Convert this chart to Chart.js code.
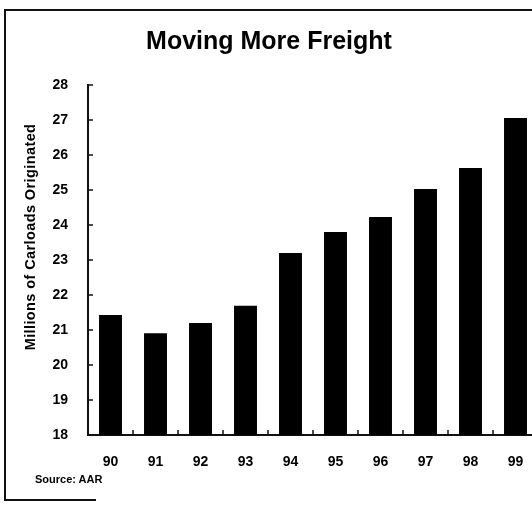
<!DOCTYPE html>
<html>
<head>
<meta charset="utf-8">
<script src="https://cdn.jsdelivr.net/npm/chart.js@4/dist/chart.umd.min.js"></script>
<style>
  html, body { margin: 0; padding: 0; background: #fff; overflow: hidden; width: 532px; height: 505px; }
  #wrap { position: absolute; left: 0; top: 0; width: 545px; height: 505px; }
  #frame { position: absolute; left: 4px; top: 9px; width: 540px; height: 490px;
           border-top: 2px solid #111; border-left: 2px solid #111; pointer-events: none; }
  #bottomline { position: absolute; left: 6px; top: 499px; width: 90px; height: 0; border-top: 2px solid #111; }
  #source { position: absolute; left: 35px; top: 473px; font: bold 11px "Liberation Sans", Arial, sans-serif; color: #000; }
  #ytitle { position: absolute; left: 30px; top: 237px; white-space: nowrap;
            font: bold 14.5px "Liberation Sans", Arial, sans-serif; letter-spacing: 0.4px; color: #000;
            transform: translate(-50%, -50%) rotate(-90deg); }
</style>
</head>
<body>
<div id="wrap"><canvas id="c" width="545" height="505"></canvas></div>
<div id="frame"></div>
<div id="bottomline"></div>
<div id="ytitle"></div>
<div id="source">Source: AAR</div>
<script>
const categories = ["90", "91", "92", "93", "94", "95", "96", "97", "98", "99"];
const carloads = [21.43, 20.91, 21.2, 21.69, 23.2, 23.8, 24.23, 25.03, 25.63, 27.06];
const yTicks = [18, 19, 20, 21, 22, 23, 24, 25, 26, 27, 28];
const titleText = "Moving More Freight";
const yTitle = "Millions of Carloads Originated";

document.getElementById('ytitle').textContent = yTitle;

const FONT = '"Liberation Sans", Arial, sans-serif';

const innerTicks = {
  id: 'innerTicks',
  afterDatasetsDraw(chart) {
    const ctx = chart.ctx;
    const x = chart.scales.x, y = chart.scales.y;
    ctx.save();
    ctx.strokeStyle = '#111';
    ctx.lineWidth = 1.5;
    yTicks.forEach(v => {
      const py = y.getPixelForValue(v);
      ctx.beginPath();
      ctx.moveTo(chart.chartArea.left, py);
      ctx.lineTo(chart.chartArea.left + 5, py);
      ctx.stroke();
    });
    for (let i = 0; i < categories.length - 1; i++) {
      const px = (x.getPixelForValue(i) + x.getPixelForValue(i + 1)) / 2;
      ctx.beginPath();
      ctx.moveTo(px, chart.chartArea.bottom);
      ctx.lineTo(px, chart.chartArea.bottom - 5);
      ctx.stroke();
    }
    ctx.restore();
  }
};

new Chart(document.getElementById('c'), {
  type: 'bar',
  data: {
    labels: categories,
    datasets: [{
      data: carloads,
      backgroundColor: '#000',
      borderWidth: 0,
      barPercentage: 0.51,
      categoryPercentage: 1.0
    }]
  },
  options: {
    responsive: false,
    animation: false,
    layout: { padding: { left: 0, right: 7, top: 0, bottom: 0 } },
    plugins: {
      legend: { display: false },
      tooltip: { enabled: false },
      title: {
        display: true,
        text: titleText,
        color: '#000',
        font: { family: FONT, size: 25, weight: 'bold' },
        padding: { top: 27, bottom: 28 }
      }
    },
    scales: {
      x: {
        afterFit(scale) { scale.height = 70; },
        grid: { display: false, drawTicks: false },
        border: { display: true, color: '#111', width: 2 },
        ticks: {
          color: '#000',
          padding: 19,
          font: { family: FONT, size: 14, weight: 'bold' },
          maxRotation: 0
        }
      },
      y: {
        min: 18,
        max: 28,
        afterFit(scale) { scale.width = 88; },
        afterBuildTicks(scale) { scale.ticks = yTicks.map(v => ({ value: v })); },
        grid: { display: false, drawTicks: false },
        border: { display: true, color: '#111', width: 2 },
        ticks: {
          color: '#000',
          padding: 20,
          font: { family: FONT, size: 14, weight: 'bold' }
        }
      }
    }
  },
  plugins: [innerTicks]
});
</script>
</body>
</html>
